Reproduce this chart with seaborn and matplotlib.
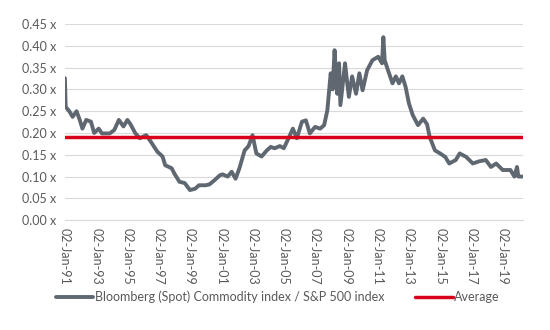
import matplotlib
matplotlib.use("Agg")
import matplotlib.pyplot as plt
import seaborn as sns
import pandas as pd

dates = ["1991-01-02", "1991-01-20", "1991-04-15", "1991-07-01", "1991-10-01",
         "1991-12-15", "1992-02-15", "1992-05-15", "1992-09-01", "1992-11-15",
         "1993-03-01", "1993-05-15", "1993-11-15", "1994-03-01", "1994-06-15",
         "1994-10-01", "1995-01-01", "1995-03-15", "1995-07-01", "1995-10-15",
         "1996-03-15", "1996-07-01", "1996-12-01", "1997-04-01", "1997-06-01",
         "1997-11-01", "1998-01-01", "1998-05-01", "1998-09-01", "1999-01-01",
         "1999-05-01", "1999-08-01", "2000-01-01", "2000-04-01", "2000-08-01",
         "2000-12-01", "2001-02-01", "2001-06-01", "2001-09-01", "2001-12-01",
         "2002-03-01", "2002-07-01", "2002-10-01", "2003-01-01", "2003-04-01",
         "2003-08-01", "2003-12-01", "2004-03-01", "2004-06-01", "2004-10-01",
         "2005-01-01", "2005-05-01", "2005-08-01", "2005-11-01", "2006-03-01",
         "2006-06-01", "2006-09-01", "2007-01-01", "2007-05-01", "2007-08-01",
         "2007-10-15", "2008-01-01", "2008-02-15", "2008-04-01", "2008-05-01",
         "2008-06-01", "2008-07-15", "2008-08-15", "2008-12-01", "2009-01-15",
         "2009-03-01", "2009-05-15", "2009-08-15", "2009-11-01", "2010-01-15",
         "2010-05-01", "2010-09-01", "2011-01-15", "2011-04-15", "2011-05-15",
         "2011-06-15", "2011-09-01", "2011-12-15", "2012-03-01", "2012-05-15",
         "2012-08-01", "2012-10-15", "2013-01-01", "2013-04-01",
         "2013-08-01", "2013-12-01", "2014-03-01", "2014-05-01", "2014-09-01",
         "2015-01-01", "2015-05-01", "2015-08-01", "2016-01-01", "2016-04-01",
         "2016-09-01", "2017-02-01", "2017-07-01", "2017-12-01", "2018-04-01",
         "2018-08-01", "2019-01-01", "2019-07-01", "2019-10-01", "2019-12-01",
         "2020-01-01", "2020-04-01"]

ratio = [0.326, 0.26, 0.25, 0.237, 0.25,
         0.23, 0.21, 0.23, 0.226, 0.2,
         0.21, 0.199, 0.199, 0.207, 0.23,
         0.215, 0.23, 0.22, 0.2, 0.188,
         0.195, 0.18, 0.157, 0.146, 0.126,
         0.119, 0.107, 0.088, 0.085, 0.069,
         0.072, 0.08, 0.08, 0.082, 0.092,
         0.103, 0.105, 0.1, 0.111, 0.095,
         0.119, 0.16, 0.17, 0.195, 0.153,
         0.146, 0.16, 0.168, 0.165, 0.17,
         0.165, 0.19, 0.21, 0.188, 0.226,
         0.229, 0.199, 0.214, 0.21, 0.218,
         0.252, 0.337, 0.30, 0.39, 0.337,
         0.29, 0.36, 0.264, 0.36, 0.32,
         0.283, 0.33, 0.29, 0.337, 0.298,
         0.344, 0.367, 0.375, 0.36, 0.42,
         0.367, 0.344, 0.314, 0.33, 0.314,
         0.33, 0.306, 0.268, 0.241,
         0.218, 0.233, 0.22, 0.191, 0.16,
         0.153, 0.145, 0.13, 0.138, 0.153,
         0.145, 0.13, 0.135, 0.138, 0.122,
         0.13, 0.115, 0.115, 0.1, 0.122,
         0.1, 0.1]

average = 0.19
y_ticks = [0.0, 0.05, 0.10, 0.15, 0.20, 0.25, 0.30, 0.35, 0.40, 0.45]
tick_years = list(range(1991, 2020, 2))

series_label = "Bloomberg (Spot) Commodity index / S&P 500 index"
avg_label = "Average"

df = pd.DataFrame({"date": pd.to_datetime(dates), "ratio": ratio})
df["avg"] = average

sns.set_style("white")
plt.rcParams["font.family"] = ["Lato", "DejaVu Sans"]

fig = plt.figure(figsize=(5.5, 3.3), dpi=100)
ax = fig.add_axes([0.118, 0.333, 0.833, 0.594])

gray = "#5f6770"
red = "#d9001b"
txt = "#595959"

sns.lineplot(data=df, x="date", y="ratio", ax=ax, color=gray, linewidth=2.8,
             label=series_label)
sns.lineplot(data=df, x="date", y="avg", ax=ax, color=red, linewidth=2.5,
             label=avg_label)

ax.set_xlim(pd.Timestamp("1991-01-02"), pd.Timestamp("2020-04-20"))
ax.set_ylim(0, 0.45)
ax.set_yticks(y_ticks)
ax.set_yticklabels([f"{v:.2f} x" for v in y_ticks], color=txt, fontsize=9)
xt = [pd.Timestamp(f"{y}-01-02") for y in tick_years]
ax.set_xticks(xt)
ax.set_xticklabels([t.strftime("%d-%b-%y") for t in xt], rotation=270,
                   color=txt, fontsize=9)
ax.tick_params(axis="x", length=4, color="#bfbfbf", width=0.8, pad=2)
ax.tick_params(axis="y", length=0, pad=6)
ax.grid(axis="y", color="#d9d9d9", linewidth=0.8)
ax.set_axisbelow(True)
for s in ["top", "right", "left"]:
    ax.spines[s].set_visible(False)
ax.spines["bottom"].set_color("#d9d9d9")
ax.spines["bottom"].set_linewidth(0.8)
ax.set_xlabel("")
ax.set_ylabel("")

ax.legend_.remove()
handles, labels = ax.get_legend_handles_labels()
leg = fig.legend(handles, labels, loc="center", bbox_to_anchor=(0.505, 0.1),
                 ncol=2, frameon=False, fontsize=9, handlelength=3.0,
                 columnspacing=2.5, handletextpad=0.1)
for t in leg.get_texts():
    t.set_color(txt)

fig.savefig("out.png", dpi=100)
